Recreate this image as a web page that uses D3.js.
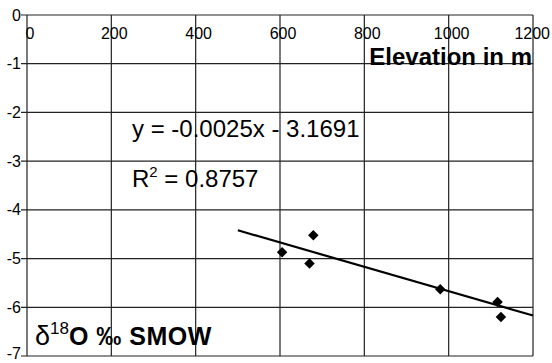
<!DOCTYPE html>
<html>
<head>
    <script src="https://d3js.org/d3.v7.min.js"></script>
    <style>
        body { margin: 0; background: #fff; }
        svg { display: block; font-family: "Liberation Sans", Arial, sans-serif; }
    </style>
</head>
<body>
<script>
    // measured values
    var elevation = [605, 670, 679, 980, 1116, 1124];
    var d18O = [-4.87, -5.10, -4.52, -5.63, -5.89, -6.20];
    var xTicks = [0, 200, 400, 600, 800, 1000, 1200];
    var yTicks = [0, -1, -2, -3, -4, -5, -6, -7];
    var slope = -0.0025, intercept = -3.1691, r2 = 0.8757;
    var fitRange = [500, 1200];

    var svg = d3.select("body").append("svg")
        .attr("width", 552)
        .attr("height", 363);

    var x = d3.scaleLinear().domain([0, 1200]).range([27, 533]);
    var y = d3.scaleLinear().domain([-7, 0]).range([356, 15]);

    // grid
    svg.append("g").selectAll("line.v")
        .data(xTicks).enter().append("line")
        .attr("x1", d => x(d)).attr("x2", d => x(d))
        .attr("y1", y(0)).attr("y2", y(-7))
        .attr("stroke", "#222").attr("stroke-width", 1.2);

    svg.append("g").selectAll("line.h")
        .data(yTicks).enter().append("line")
        .attr("x1", x(0) - 6).attr("x2", x(1200))
        .attr("y1", d => y(d)).attr("y2", d => y(d))
        .attr("stroke", "#222").attr("stroke-width", 1.2);

    // y tick labels
    svg.append("g").selectAll("text")
        .data(yTicks).enter().append("text")
        .attr("x", 21)
        .attr("y", d => y(d))
        .attr("dy", d => d === -7 ? "0.2em" : "0.35em")
        .attr("text-anchor", "end")
        .style("font-size", "16px")
        .text(d => d);

    // x tick labels, inside top
    svg.append("g").selectAll("text")
        .data(xTicks).enter().append("text")
        .attr("x", d => d === 1200 ? 550 : x(d) + 3)
        .attr("y", 39)
        .attr("text-anchor", d => d === 1200 ? "end" : "middle")
        .style("font-size", "16px")
        .text(d => d);

    // trend line
    svg.append("line")
        .attr("x1", x(fitRange[0])).attr("y1", y(slope * fitRange[0] + intercept))
        .attr("x2", x(fitRange[1])).attr("y2", y(slope * fitRange[1] + intercept))
        .attr("stroke", "#000").attr("stroke-width", 2.2);

    // points
    svg.append("g").selectAll("path")
        .data(elevation.map((e, i) => [e, d18O[i]])).enter().append("path")
        .attr("d", d3.symbol().type(d3.symbolDiamond2).size(70))
        .attr("transform", d => "translate(" + x(d[0]) + "," + y(d[1]) + ")")
        .attr("fill", "#000");

    // equation
    svg.append("text")
        .attr("x", 132).attr("y", 137)
        .style("font-size", "24px")
        .text("y = " + slope.toFixed(4) + "x - " + Math.abs(intercept).toFixed(4));

    var rt = svg.append("text")
        .attr("x", 132).attr("y", 187)
        .style("font-size", "24px");
    rt.append("tspan").text("R");
    rt.append("tspan").attr("dy", -10).style("font-size", "15px").text("2");
    rt.append("tspan").attr("dy", 10).text(" = " + r2);

    // axis titles
    svg.append("text")
        .attr("x", 532).attr("y", 65)
        .attr("text-anchor", "end")
        .style("font-size", "24px")
        .style("font-weight", "bold")
        .text("Elevation in m");

    var yt = svg.append("text")
        .attr("x", 35).attr("y", 345)
        .style("font-size", "27px");
    yt.append("tspan").text("δ");
    yt.append("tspan").attr("dy", -11).style("font-size", "17px").text("18");
    yt.append("tspan").attr("dy", 11).style("font-weight", "bold").style("font-size", "25px")
        .style("letter-spacing", "0.5px").text("O ‰ SMOW");
</script>
</body>
</html>
